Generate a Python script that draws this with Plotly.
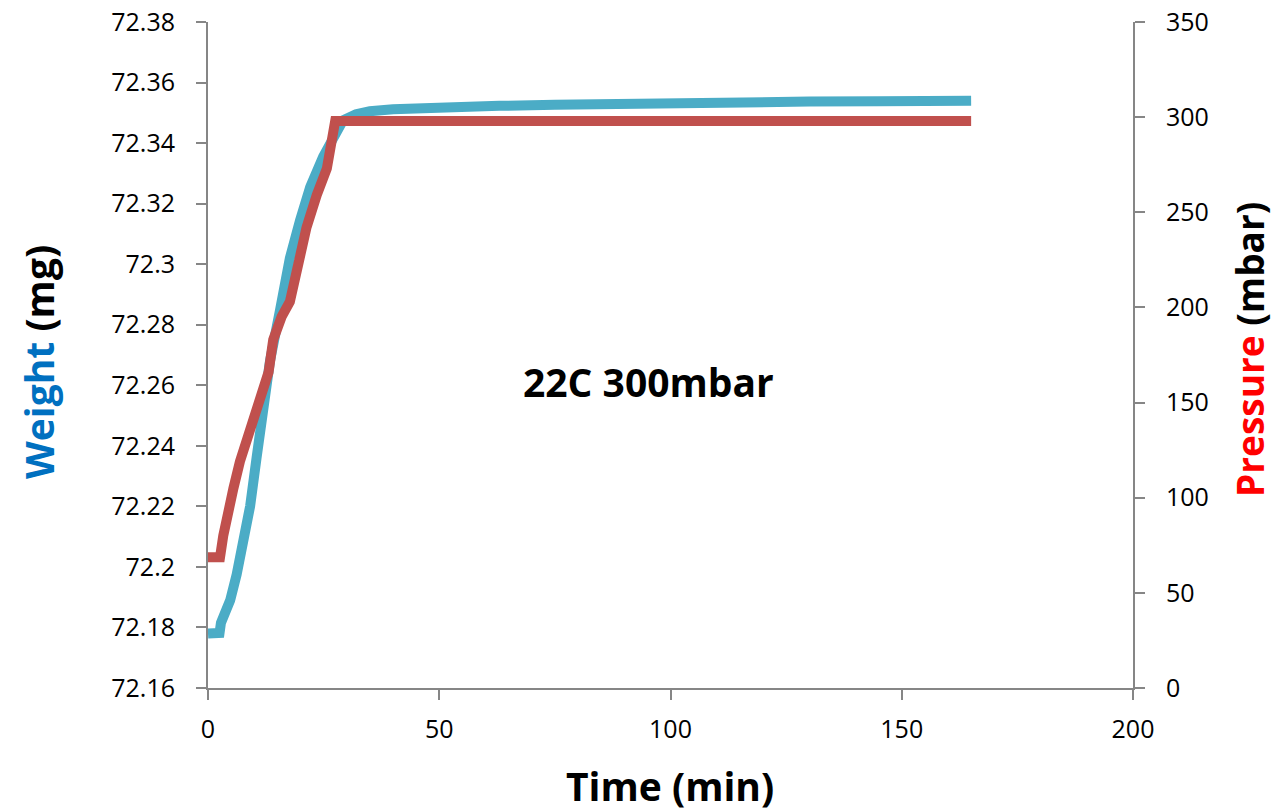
import plotly.graph_objects as go

# Weight (mg) vs time (min)
weight_time = [0, 2.5, 2.8, 3.5, 4.8, 6.2, 7.6, 9.1, 10.5, 12.0, 13.4, 15.6, 17.7, 19.9,
               22.1, 24.9, 27.1, 29.2, 32, 35, 40, 46, 55, 63, 75, 85, 100, 115, 130, 145, 165]
weight_mg = [72.1780, 72.1782, 72.1815, 72.1840, 72.1890, 72.1975, 72.2075, 72.2200, 72.2360,
             72.2530, 72.2680, 72.2850, 72.3020, 72.3145, 72.3255, 72.3355, 72.3425, 72.3475,
             72.3495, 72.3505, 72.3512, 72.3516, 72.3520, 72.3523, 72.3527, 72.3530, 72.3533,
             72.3535, 72.3537, 72.3538, 72.3540]

# Pressure (mbar) vs time (min)
pressure_time = [0, 2.6, 3.3, 4.4, 5.5, 6.9, 8.4, 9.8, 11.3, 13.1, 14.1, 15.9, 17.7, 19.2,
                 21.3, 23.5, 25.7, 27.5, 60, 100, 130, 165]
pressure_mbar = [68.7, 68.7, 80, 96, 105, 119, 131, 141, 156, 166, 183, 195, 203, 222,
                 242, 259, 273, 298, 298, 298, 298, 298]

weight_ticks = [72.16, 72.18, 72.20, 72.22, 72.24, 72.26, 72.28, 72.30, 72.32, 72.34, 72.36, 72.38]
weight_ticklabels = ["72.16", "72.18", "72.2", "72.22", "72.24", "72.26", "72.28", "72.3",
                     "72.32", "72.34", "72.36", "72.38"]
pressure_ticks = [0, 50, 100, 150, 200, 250, 300, 350]
time_ticks = [0, 50, 100, 150, 200]

FONT = "Open Sans"
AXIS_COLOR = "#868686"

fig = go.Figure()
fig.add_trace(go.Scatter(x=weight_time, y=weight_mg, mode="lines",
                         line=dict(color="#4BACC6", width=10), yaxis="y", showlegend=False))
fig.add_trace(go.Scatter(x=pressure_time, y=pressure_mbar, mode="lines",
                         line=dict(color="#C0504D", width=10), yaxis="y2", showlegend=False))

tickfont = dict(family=FONT, size=25, color="#000000")
fig.update_layout(
    width=1276, height=811,
    margin=dict(l=208, r=143, t=22, b=123, autoexpand=False),
    paper_bgcolor="white", plot_bgcolor="white",
    xaxis=dict(range=[0, 200], tickvals=time_ticks, showgrid=False, zeroline=False,
               showline=True, linecolor=AXIS_COLOR, linewidth=2, automargin=False,
               ticks="outside", ticklen=10, tickcolor=AXIS_COLOR, tickwidth=1.5,
               ticklabelstandoff=8, tickfont=tickfont),
    yaxis=dict(range=[72.16, 72.38], tickvals=weight_ticks, ticktext=weight_ticklabels,
               showgrid=False, zeroline=False, showline=True, linecolor=AXIS_COLOR, linewidth=2,
               automargin=False,
               ticks="outside", ticklen=10, tickcolor=AXIS_COLOR, tickwidth=1.5,
               ticklabelstandoff=16, tickfont=tickfont),
    yaxis2=dict(range=[0, 350], tickvals=pressure_ticks, overlaying="y", side="right",
                showgrid=False, zeroline=False, showline=True, linecolor=AXIS_COLOR, linewidth=2,
                automargin=False,
                ticks="outside", ticklen=10, tickcolor=AXIS_COLOR, tickwidth=1.5,
                ticklabelstandoff=16, tickfont=tickfont),
)

fig.add_annotation(text="<b><span style='color:#0070C0'>Weight</span> (mg)</b>",
                   xref="paper", yref="paper", x=(38 - 208) / 925, y=(688 - 362) / 666,
                   textangle=-90, showarrow=False, xanchor="center", yanchor="middle",
                   font=dict(family=FONT, size=39, color="#000000"))
fig.add_annotation(text="<b><span style='color:#FF0000'>Pressure</span> (mbar)</b>",
                   xref="paper", yref="paper", x=(1249 - 208) / 925, y=(688 - 350) / 666,
                   textangle=-90, showarrow=False, xanchor="center", yanchor="middle",
                   font=dict(family=FONT, size=37, color="#000000"))
fig.add_annotation(text="<b>Time (min)</b>",
                   xref="paper", yref="paper", x=(670 - 208) / 925, y=(688 - 785) / 666,
                   showarrow=False, xanchor="center", yanchor="middle",
                   font=dict(family=FONT, size=39, color="#000000"))
fig.add_annotation(text="<b>22C 300mbar</b>",
                   xref="paper", yref="paper", x=(648 - 208) / 925, y=(688 - 381) / 666,
                   showarrow=False, xanchor="center", yanchor="middle",
                   font=dict(family=FONT, size=39, color="#000000"))

fig.write_html("out.html", config={"displayModeBar": False},
               post_script="document.body.style.margin='0';")
